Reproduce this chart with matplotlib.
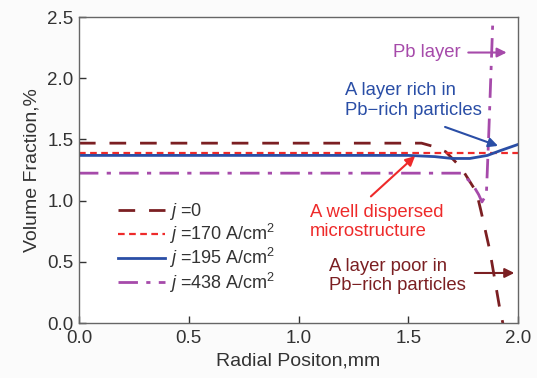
import numpy as np
import matplotlib
matplotlib.use("Agg")
import matplotlib.pyplot as plt

plt.rcParams['font.family'] = 'Liberation Sans'
plt.rcParams['mathtext.fontset'] = 'custom'
plt.rcParams['mathtext.rm'] = 'Liberation Sans'
plt.rcParams['mathtext.it'] = 'Liberation Sans:italic'

# curvas de fraccion volumetrica
x_j0 = [0.0, 1.56, 1.62, 1.67, 1.74, 1.81, 1.83, 1.87, 1.915, 1.93]
y_j0 = [1.47, 1.47, 1.44, 1.40, 1.27, 1.07, 0.92, 0.60, 0.13, 0.0]

x_j170 = [0.0, 2.0]
y_j170 = [1.39, 1.39]

x_j195 = [0.0, 1.5, 1.62, 1.70, 1.78, 1.86, 1.92, 2.0]
y_j195 = [1.37, 1.37, 1.36, 1.345, 1.345, 1.37, 1.41, 1.46]

x_j438 = [0.0, 1.74, 1.79, 1.82, 1.835, 1.855, 1.865, 1.875, 1.885]
y_j438 = [1.225, 1.225, 1.14, 1.05, 0.99, 1.05, 1.5, 2.0, 2.5]

c_j0 = '#7b1f22'
c_j170 = '#ee2a2a'
c_j195 = '#2a4ea6'
c_j438 = '#a64aaa'

fig = plt.figure(figsize=(5.37, 3.78), dpi=100)
fig.patch.set_facecolor('#fbfbfb')
ax = fig.add_axes([0.147, 0.145, 0.818, 0.81])
ax.set_facecolor('white')

ax.plot(x_j0, y_j0, color=c_j0, lw=2.0, dashes=(6, 5), label=r'$j$ =0')
ax.plot(x_j170, y_j170, color=c_j170, lw=1.6, dashes=(3, 2), label=r'$j$ =170 A/cm$^2$')
ax.plot(x_j195, y_j195, color=c_j195, lw=2.0, label=r'$j$ =195 A/cm$^2$')
ax.plot(x_j438, y_j438, color=c_j438, lw=2.0, dashes=(7, 3, 1.5, 3), label=r'$j$ =438 A/cm$^2$')

ax.set_xlim(0, 2.0)
ax.set_ylim(0, 2.5)
ax.set_xticks([0.0, 0.5, 1.0, 1.5, 2.0])
ax.set_yticks([0.0, 0.5, 1.0, 1.5, 2.0, 2.5])
ax.xaxis.set_major_formatter(matplotlib.ticker.FormatStrFormatter('%.1f'))
ax.yaxis.set_major_formatter(matplotlib.ticker.FormatStrFormatter('%.1f'))
ax.tick_params(direction='in', length=5, labelsize=13.5, colors='#333333', width=1.0)
ax.tick_params(axis='x', pad=5)
ax.tick_params(axis='y', pad=4)
for s in ax.spines.values():
    s.set_color('#666666')
    s.set_linewidth(1.0)

ax.set_xlabel('Radial Positon,mm', fontsize=14, color='#333333', labelpad=4)
ax.set_ylabel('Volume Fraction,%', fontsize=14, color='#333333', labelpad=5)

leg = ax.legend(loc='lower left', bbox_to_anchor=(0.072, 0.07), frameon=False,
                fontsize=13, handlelength=2.6, handletextpad=0.25,
                labelspacing=0.0, borderaxespad=0)
for t in leg.get_texts():
    t.set_color('#333333')

# anotaciones
ax.text(1.74, 2.21, 'Pb layer', color=c_j438, fontsize=13.3, ha='right', va='center')
ax.annotate('', xy=(1.96, 2.21), xytext=(1.76, 2.21),
            arrowprops=dict(arrowstyle='-|>', color=c_j438, lw=1.5, mutation_scale=14))

ax.text(1.21, 1.82, 'A layer rich in\nPb\u2212rich particles', color=c_j195,
        fontsize=13.3, ha='left', va='center', linespacing=1.2)
ax.annotate('', xy=(1.92, 1.44), xytext=(1.655, 1.61),
            arrowprops=dict(arrowstyle='-|>', color=c_j195, lw=1.5, mutation_scale=14))

ax.text(1.05, 0.825, 'A well dispersed\nmicrostructure', color=c_j170,
        fontsize=13.3, ha='left', va='center', linespacing=1.2)
ax.annotate('', xy=(1.54, 1.38), xytext=(1.32, 1.02),
            arrowprops=dict(arrowstyle='-|>', color=c_j170, lw=1.5, mutation_scale=14))

ax.text(1.14, 0.384, 'A layer poor in\nPb\u2212rich particles', color=c_j0,
        fontsize=13.3, ha='left', va='center', linespacing=1.2)
ax.annotate('', xy=(1.995, 0.41), xytext=(1.79, 0.41),
            arrowprops=dict(arrowstyle='-|>', color=c_j0, lw=1.5, mutation_scale=14))

fig.savefig('out.png', dpi=100, facecolor=fig.get_facecolor())
